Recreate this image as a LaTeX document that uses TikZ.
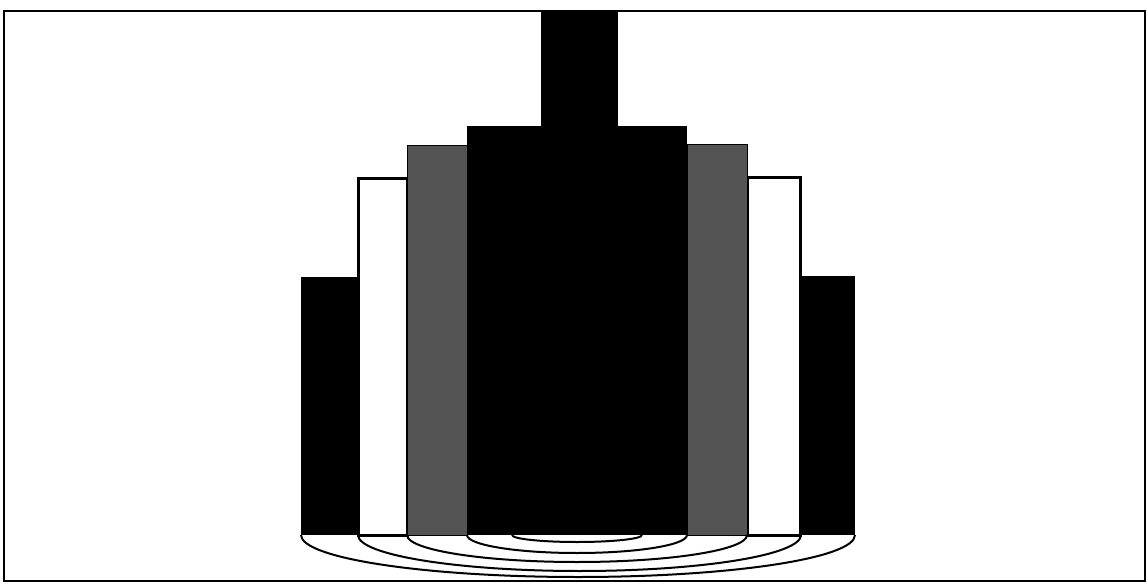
\documentclass[tikz,border=0pt]{standalone}
\begin{document}
\begin{tikzpicture}[x=1pt,y=-1pt,
  blackbar/.style={fill=black},
  whitebox/.style={fill=white,draw=black,line width=3pt},
  graybar/.style={fill=black!67,draw=black,line width=1pt},
  arcline/.style={draw=black,line width=2pt},
  frameline/.style={draw=black,line width=2pt}]
\useasboundingbox (0,0) rectangle (1148,585);
\fill[white] (0,0) rectangle (1148,585);
% outer black bars
\fill[blackbar] (301,277) rectangle (358,535);
\fill[blackbar] (801,276) rectangle (855,535);
% white boxes
\draw[whitebox] (358.5,178.5) rectangle (407,535);
\draw[whitebox] (747,177.5) rectangle (800.5,535);
% gray bars
\draw[graybar] (407,146) rectangle (467,535);
\draw[graybar] (687,145) rectangle (747,535);
% centre block and chimney
\fill[blackbar] (467,126) rectangle (687,535);
\fill[blackbar] (541,10) rectangle (618,127);
% arcs
\draw[arcline] (301,535) arc[start angle=180,end angle=0,x radius=277,y radius=42];
\draw[arcline] (358,535) arc[start angle=180,end angle=0,x radius=221.5,y radius=36];
\draw[arcline] (407,535) arc[start angle=180,end angle=0,x radius=170,y radius=27];
\draw[arcline] (467,535) arc[start angle=180,end angle=0,x radius=110,y radius=18];
\draw[arcline] (512,535) arc[start angle=180,end angle=0,x radius=65,y radius=7];
% frame
\draw[frameline] (4,11) rectangle (1145,581);
\end{tikzpicture}
\end{document}
